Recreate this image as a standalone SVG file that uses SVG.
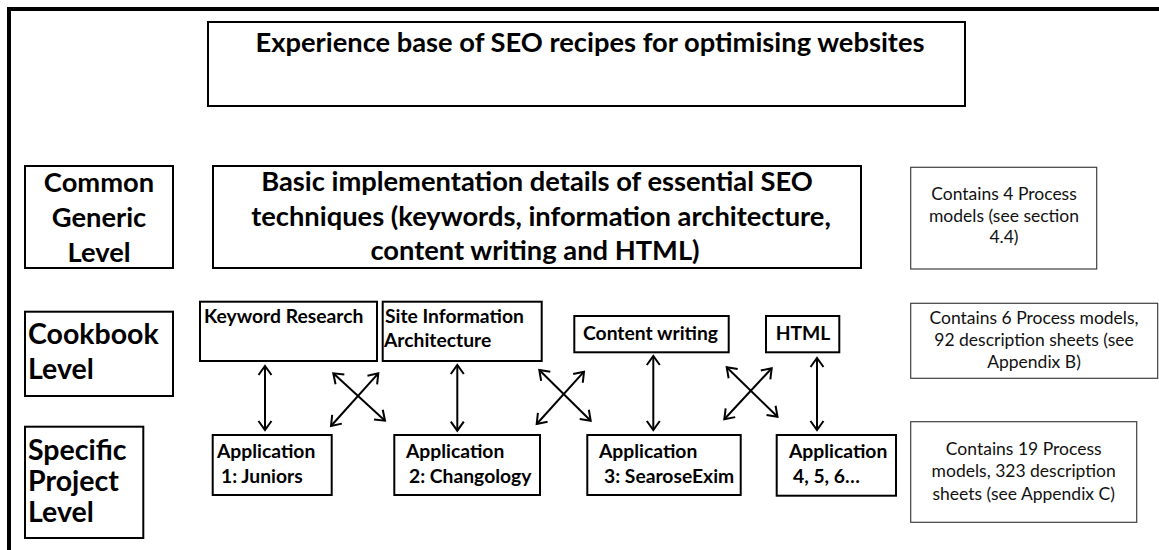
<svg xmlns="http://www.w3.org/2000/svg" width="1159" height="550" viewBox="0 0 1159 550">
<style>
.frame{stroke:#000;stroke-width:4;fill:none}
.box{fill:#fff;stroke:#000;stroke-width:2}
.note{fill:#fff;stroke:#404040;stroke-width:1.2}
.big{font-family:Lato,"Liberation Sans",sans-serif;font-weight:bold;font-size:27.3px;fill:#000}
.lvl{font-family:Lato,"Liberation Sans",sans-serif;font-weight:bold;font-size:28.5px;fill:#000}
.sm{font-family:Lato,"Liberation Sans",sans-serif;font-weight:bold;font-size:19.3px;fill:#000}
.reg{font-family:Lato,"Liberation Sans",sans-serif;font-size:17.5px;fill:#111}
.c{text-anchor:middle}
.arr{stroke:#000;stroke-width:2;fill:none;marker-start:url(#ah);marker-end:url(#ah)}
</style>
<defs>
<marker id="ah" markerUnits="userSpaceOnUse" markerWidth="24" markerHeight="24" viewBox="-12 -12 24 24" refX="0" refY="0" orient="auto-start-reverse" overflow="visible">
<path d="M-9,-6.5 L0,0 L-9,6.5" fill="none" stroke="#000" stroke-width="2"/>
</marker>
</defs>
<rect width="1159" height="550" fill="#fff"/>
<path class="frame" d="M9,550 V9 H1159"/>

<g id="title">
<rect class="box" x="208" y="22" width="757" height="84"/>
<text class="big c" x="590" y="52">Experience base of SEO recipes for optimising websites</text>
</g>

<g id="level-common">
<rect class="box" x="25" y="166" width="148" height="102"/>
<text class="big c" x="99" y="192">Common</text>
<text class="big c" x="99" y="227">Generic</text>
<text class="big c" x="99" y="262">Level</text>
</g>

<g id="basic">
<rect class="box" x="213" y="166" width="648" height="102"/>
<text class="big c" x="537" y="191">Basic implementation details of essential SEO</text>
<text class="big c" x="541" y="226">techniques (keywords, information architecture,</text>
<text class="big c" x="535" y="260">content writing and HTML)</text>
</g>

<g id="note-common">
<rect class="note" x="910.7" y="167.3" width="186" height="101.7"/>
<text class="reg c" x="1004" y="200">Contains 4 Process</text>
<text class="reg c" x="1004" y="221.5">models (see section</text>
<text class="reg c" x="1004" y="243">4.4)</text>
</g>

<g id="level-cookbook">
<rect class="box" x="25" y="311.7" width="148" height="84.3"/>
<text class="lvl" x="28" y="344">Cookbook</text>
<text class="lvl" x="28" y="379">Level</text>
</g>

<g id="keyword">
<rect class="box" x="200" y="301.7" width="177" height="59.3"/>
<text class="sm" x="204" y="323">Keyword Research</text>
</g>

<g id="siteinfo">
<rect class="box" x="382.7" y="301.7" width="159" height="59.3"/>
<text class="sm" x="385" y="323">Site Information</text>
<text class="sm" x="384" y="347">Architecture</text>
</g>

<g id="content">
<rect class="box" x="574.3" y="316" width="154.4" height="36.3"/>
<text class="sm c" x="650.5" y="340">Content writing</text>
</g>

<g id="html">
<rect class="box" x="766" y="316" width="73.3" height="36.3"/>
<text class="sm c" x="803" y="340">HTML</text>
</g>

<g id="note-cookbook">
<rect class="note" x="910.7" y="303.3" width="247" height="75"/>
<text class="reg c" x="1034" y="324">Contains 6 Process models,</text>
<text class="reg c" x="1034" y="346">92 description sheets (see</text>
<text class="reg c" x="1034" y="368">Appendix B)</text>
</g>

<g id="level-specific">
<rect class="box" x="25" y="426.7" width="118.3" height="111.3"/>
<text class="lvl" x="28" y="460">Specific</text>
<text class="lvl" x="28" y="491">Project</text>
<text class="lvl" x="28" y="522">Level</text>
</g>

<g id="app1">
<rect class="box" x="212.7" y="435" width="119" height="60"/>
<text class="sm" x="217" y="458">Application</text>
<text class="sm" x="221" y="483">1: Juniors</text>
</g>

<g id="app2">
<rect class="box" x="394.3" y="435" width="145.7" height="60"/>
<text class="sm" x="406" y="458">Application</text>
<text class="sm" x="409" y="483">2: Changology</text>
</g>

<g id="app3">
<rect class="box" x="587.3" y="435" width="153.4" height="60"/>
<text class="sm" x="599" y="458">Application</text>
<text class="sm" x="604" y="483">3: SearoseExim</text>
</g>

<g id="app4">
<rect class="box" x="776.7" y="435" width="119.3" height="60.7"/>
<text class="sm" x="789" y="458">Application</text>
<text class="sm" x="793" y="483">4, 5, 6…</text>
</g>

<g id="note-specific">
<rect class="note" x="910.7" y="421.7" width="226" height="100.6"/>
<text class="reg c" x="1023.7" y="455">Contains 19 Process</text>
<text class="reg c" x="1023.7" y="477">models, 323 description</text>
<text class="reg c" x="1023.7" y="500">sheets (see Appendix C)</text>
</g>

<g id="connectors">
<line class="arr" x1="265" y1="366" x2="265" y2="430"/>
<line class="arr" x1="333.3" y1="373.3" x2="385" y2="420.7"/>
<line class="arr" x1="378.3" y1="373.3" x2="331" y2="426"/>
<line class="arr" x1="457.3" y1="365" x2="457.3" y2="430.7"/>
<line class="arr" x1="539.3" y1="370" x2="590.7" y2="420.7"/>
<line class="arr" x1="584" y1="371.7" x2="536.7" y2="424"/>
<line class="arr" x1="653.3" y1="356" x2="653.3" y2="430"/>
<line class="arr" x1="726.7" y1="367.3" x2="777.5" y2="416.7"/>
<line class="arr" x1="771.7" y1="368.3" x2="724.3" y2="419.3"/>
<line class="arr" x1="817" y1="358" x2="817" y2="430"/>
</g>
</svg>
